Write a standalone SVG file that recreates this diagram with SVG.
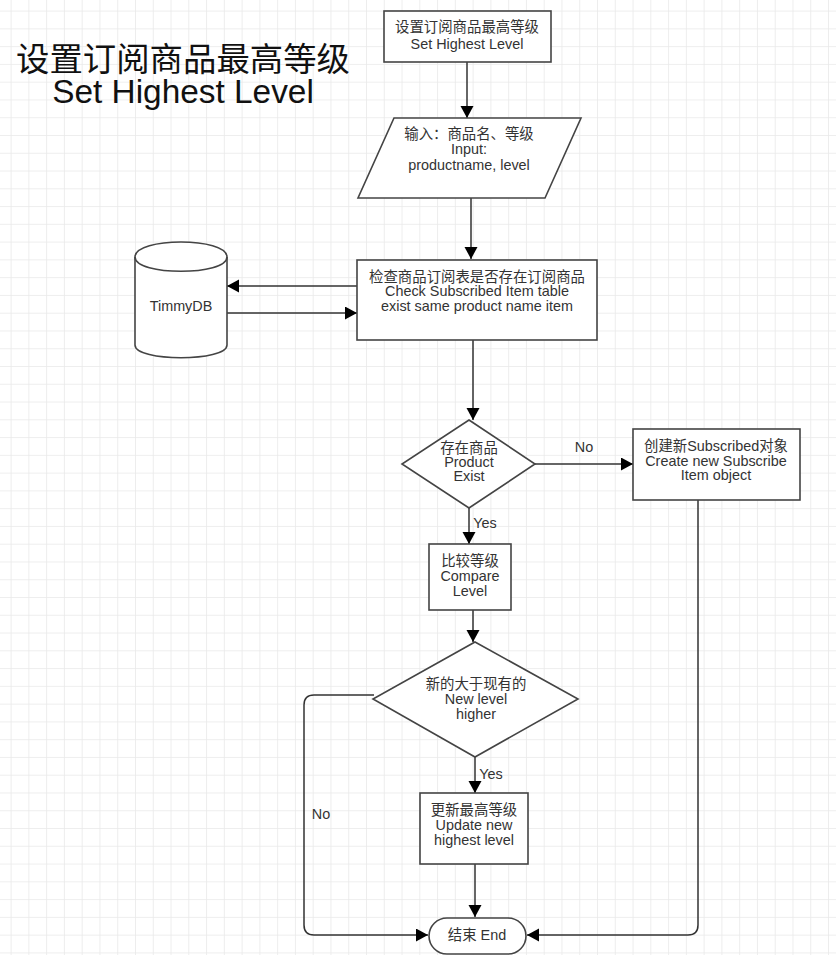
<svg xmlns="http://www.w3.org/2000/svg" width="836" height="955" viewBox="0 0 836 955">
<style>
.s{fill:#fff;stroke:#444;stroke-width:1.6}
.c{fill:none;stroke:#333;stroke-width:1.5;marker-end:url(#a)}
text{font-family:"Liberation Sans","Noto Sans CJK SC",sans-serif;font-size:14.4px;fill:#333;text-anchor:middle}
.t{font-size:33.4px;fill:#111}
</style>
<defs>
<pattern id="g" x="10.6" y="10.6" width="17.77" height="17.77" patternUnits="userSpaceOnUse"><path d="M0 0V17.77M0 0H17.77" fill="none" stroke="#e9e9e9" stroke-width="1.6"/></pattern>
<marker id="a" markerUnits="userSpaceOnUse" markerWidth="13" markerHeight="14" refX="12" refY="6.5" orient="auto"><path d="M0 0L12 6.5L0 13Z" fill="#000"/></marker>
</defs>
<rect width="836" height="955" fill="#fff"/>
<rect width="836" height="955" fill="url(#g)"/>
<g id="connectors">
<path class="c" d="M467 62V118"/>
<path class="c" d="M471 198V259"/>
<path class="c" d="M357 286H227"/>
<path class="c" d="M227 313H357"/>
<path class="c" d="M473 340V420"/>
<path class="c" d="M535 464H633"/>
<path class="c" d="M469 506V544"/>
<path class="c" d="M473 610V642"/>
<path class="c" d="M475 757V793"/>
<path class="c" d="M475 864V917"/>
<path class="c" d="M374 695H314Q304 695 304 705V925Q304 935 314 935H428"/>
<path class="c" d="M698 500V925Q698 935 688 935H527"/>
</g>
<g id="title"><text class="t" x="183" y="71">设置订阅商品最高等级</text><text class="t" x="183" y="103">Set Highest Level</text></g>
<g id="n-start"><rect class="s" x="384" y="11" width="167" height="51"/><text x="467" y="32">设置订阅商品最高等级</text><text x="467" y="49">Set Highest Level</text></g>
<g id="n-input"><path class="s" d="M394 118H581L545 198H358Z"/><text x="469" y="139">输入：商品名、等级</text><text x="469" y="154">Input:</text><text x="469" y="169.500">productname, level</text></g>
<g id="n-db"><path class="s" d="M135 257C135 237 227 237 227 257V345C227 362 135 362 135 345Z"/><path class="s" style="fill:none" d="M135 257C135 276 227 276 227 257"/><text x="181" y="311">TimmyDB</text></g>
<g id="n-check"><rect class="s" x="357" y="260" width="240" height="80"/><text x="477" y="282">检查商品订阅表是否存在订阅商品</text><text x="477" y="296">Check Subscribed Item table</text><text x="477" y="311">exist same product name item</text></g>
<g id="n-exist"><path class="s" d="M469 420L535 464L469 508L402 464Z"/><text x="469" y="453">存在商品</text><text x="469" y="467">Product</text><text x="469" y="481">Exist</text></g>
<g id="n-create"><rect class="s" x="633" y="429" width="167" height="71"/><text x="716" y="451">创建新Subscribed对象</text><text x="716" y="466">Create new Subscribe</text><text x="716" y="480">Item object</text></g>
<g id="n-compare"><rect class="s" x="429" y="544" width="82" height="66"/><text x="470" y="566">比较等级</text><text x="470" y="581">Compare</text><text x="470" y="596">Level</text></g>
<g id="n-higher"><path class="s" d="M475 642L578 699L475 757L373 699Z"/><text x="476" y="689">新的大于现有的</text><text x="476" y="704">New level</text><text x="476" y="719">higher</text></g>
<g id="n-update"><rect class="s" x="420" y="793" width="108" height="71"/><text x="474" y="815">更新最高等级</text><text x="474" y="830">Update new</text><text x="474" y="845">highest level</text></g>
<g id="n-end"><rect class="s" x="429" y="918" width="97" height="36" rx="18"/><text x="477" y="940">结束 End</text></g>
<g id="labels"><text x="584" y="452">No</text><text x="485" y="528">Yes</text><text x="491" y="779">Yes</text><text x="321" y="819">No</text></g>
</svg>
